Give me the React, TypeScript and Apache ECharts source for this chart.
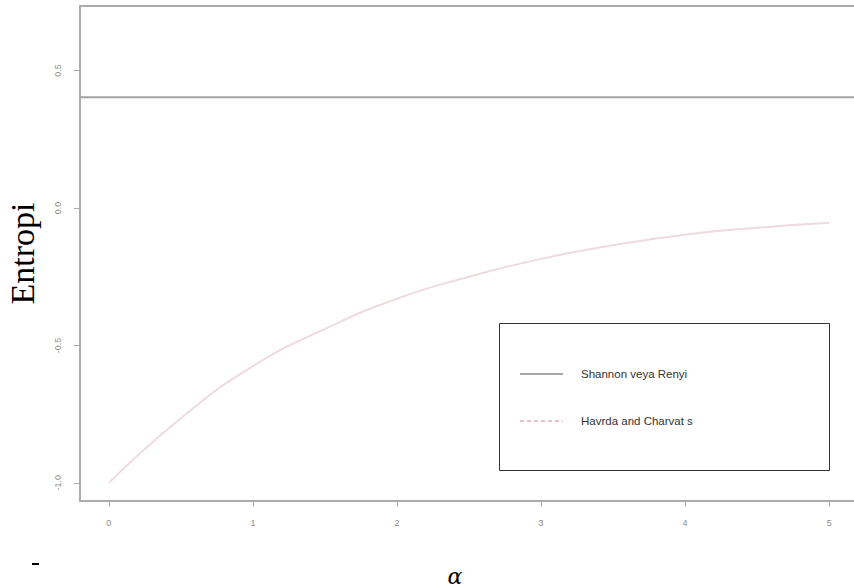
import React, { useEffect, useRef } from "react";
import * as echarts from "echarts";

const alphaValues = [0, 0.5, 1, 1.5, 2, 2.5, 3, 3.5, 4, 4.5, 5];
const havrdaValues = [-1.0, -0.765, -0.575, -0.44, -0.33, -0.25, -0.185, -0.135, -0.097, -0.072, -0.054];
const shannonValue = 0.403;
const shannonRange = [-0.2, 5.2];
const xTicks = [0, 1, 2, 3, 4, 5];
const yTicks = [-1, -0.5, 0, 0.5];
const seriesNames = ["Shannon veya Renyi", "Havrda and Charvat s"];
const yTitle = "Entropi";
const xTitle = "α";

export default function App() {
  const ref = useRef<HTMLDivElement>(null);
  useEffect(() => {
    if (!ref.current) return;
    const chart = echarts.init(ref.current, null, { renderer: "svg" });
    const axisGray = "#ababab";
    const labelStyle = {
      color: "#8c8c8c",
      fontSize: 9,
      fontFamily: "Liberation Sans, Arial, sans-serif",
    };
    chart.setOption({
      animation: false,
      backgroundColor: "#ffffff",
      grid: {
        left: 80,
        right: -4,
        top: 6,
        bottom: 86,
        containLabel: false,
        outerBoundsMode: "none",
        show: true,
        borderColor: axisGray,
        borderWidth: 2,
        backgroundColor: "transparent",
      },
      xAxis: {
        type: "value",
        min: -0.2,
        max: 5.2,
        splitLine: { show: false },
        axisLine: { show: true, onZero: false, lineStyle: { color: axisGray, width: 2 } },
        axisTick: { show: true, customValues: xTicks, length: 6, lineStyle: { color: axisGray } },
        axisLabel: { customValues: xTicks, margin: 17, ...labelStyle, formatter: (v: number) => String(v) },
        name: xTitle,
        nameLocation: "middle",
        nameGap: 64,
        nameTextStyle: {
          fontSize: 22,
          fontStyle: "italic",
          fontFamily: "DejaVu Serif, serif",
          color: "#000",
          padding: [0, 28, 0, 0],
        },
      },
      yAxis: {
        type: "value",
        min: -1.066,
        max: 0.735,
        splitLine: { show: false },
        axisLine: { show: true, onZero: false, lineStyle: { color: axisGray, width: 2 } },
        axisTick: { show: true, customValues: yTicks, length: 6, lineStyle: { color: axisGray } },
        axisLabel: {
          customValues: yTicks,
          margin: 18,
          rotate: 90,
          ...labelStyle,
          formatter: (v: number) => v.toFixed(1),
        },
        name: yTitle,
        nameLocation: "middle",
        nameRotate: 90,
        nameGap: 41,
        nameTextStyle: {
          fontSize: 34,
          fontFamily: "Liberation Serif, Times New Roman, serif",
          color: "#000",
        },
      },
      series: [
        {
          name: seriesNames[0],
          type: "line",
          data: shannonRange.map((x) => [x, shannonValue]),
          symbol: "none",
          silent: true,
          lineStyle: { color: "#a3a3a3", width: 2 },
        },
        {
          name: seriesNames[1],
          type: "line",
          data: alphaValues.map((a, i) => [a, havrdaValues[i]]),
          symbol: "none",
          smooth: 0.5,
          silent: true,
          lineStyle: { color: "#efdadd", width: 2 },
        },
      ],
      graphic: [
        {
          type: "rect",
          shape: { x: 499.5, y: 323.5, width: 330, height: 147 },
          style: { fill: "#ffffff", stroke: "#333333", lineWidth: 1 },
          z: 100,
        },
        {
          type: "line",
          shape: { x1: 520, y1: 374, x2: 563, y2: 374 },
          style: { stroke: "#8a8a8a", lineWidth: 1.5 },
          z: 101,
        },
        {
          type: "line",
          shape: { x1: 520, y1: 421, x2: 563, y2: 421 },
          style: { stroke: "#e2a9b1", lineWidth: 1.5, lineDash: [4, 3] },
          z: 101,
        },
        {
          type: "text",
          x: 581,
          y: 374,
          style: {
            text: seriesNames[0],
            fill: "#333333",
            font: "11.5px Liberation Sans, Arial, sans-serif",
            verticalAlign: "middle",
          },
          z: 101,
        },
        {
          type: "text",
          x: 581,
          y: 421,
          style: {
            text: seriesNames[1],
            fill: "#333333",
            font: "11.5px Liberation Sans, Arial, sans-serif",
            verticalAlign: "middle",
          },
          z: 101,
        },
        {
          type: "rect",
          shape: { x: 32, y: 563, width: 7, height: 2 },
          style: { fill: "#000000" },
        },
      ],
    });
    return () => chart.dispose();
  }, []);
  return (
    <div
      ref={ref}
      style={{ position: "fixed", left: 0, top: 0, width: 854, height: 587, background: "#fff" }}
    />
  );
}
